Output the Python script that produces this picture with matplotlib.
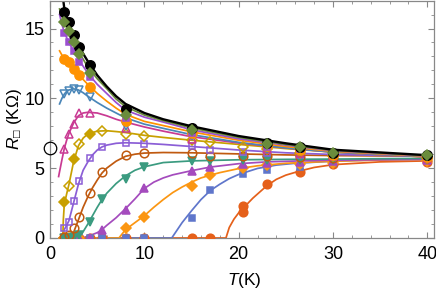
import matplotlib
matplotlib.use("Agg")
import matplotlib.pyplot as plt
from matplotlib.ticker import MultipleLocator

plt.rcParams["font.family"] = ["Liberation Sans", "DejaVu Sans"]
plt.rcParams["mathtext.fontset"] = "custom"
plt.rcParams["mathtext.rm"] = "Liberation Sans"
plt.rcParams["mathtext.it"] = "Liberation Sans:italic"
plt.rcParams["mathtext.fallback"] = "stixsans"

t_pts_a = [1.5, 2.0, 2.5, 3.1, 4.2, 5.5, 8.0, 10.0, 15, 17, 20.5, 20.5, 23, 26.5, 30, 40]
r_pts_a = [0, 0, 0, 0, 0, 0, 0, 0, 0, 0, 2.3, 1.85, 3.9, 4.74, 5.3, 5.45]
t_pts_b = [1.5, 2.0, 2.5, 3.1, 4.2, 5.5, 8.0, 10.0, 15, 17, 20.5, 23, 26.5, 30, 40]
r_pts_b = [0, 0, 0, 0, 0, 0, 0, 0, 1.4, 3.43, 4.57, 4.9, 5.1, 5.35, 5.55]
t_pts_c = [1.5, 2.0, 2.5, 3.1, 8.0, 10.0, 15, 17, 20.5, 23, 26.5, 30, 40]
r_pts_c = [0, 0, 0, 0, 0.69, 1.5, 3.7, 4.5, 4.98, 5.2, 5.3, 5.4, 5.5]
t_pts_d = [1.5, 2.0, 2.5, 3.1, 4.2, 5.5, 8.0, 10.0, 15, 17, 20.5, 23, 26.5, 30, 40]
r_pts_d = [0, 0, 0, 0, 0.02, 0.55, 2.0, 3.55, 4.8, 5.1, 5.33, 5.4, 5.45, 5.5, 5.55]
t_pts_e = [1.5, 2.0, 2.5, 3.1, 4.2, 5.5, 8.0, 10.0, 15, 17, 20.5, 23, 26.5, 30, 40]
r_pts_e = [0, 0, 0.05, 0.2, 1.17, 2.8, 4.2, 5.1, 5.5, 5.5, 5.6, 5.6, 5.6, 5.6, 5.65]
t_pts_f = [1.5, 2.0, 2.5, 3.1, 4.2, 5.5, 8.0, 10.0, 15, 17, 20.5, 23, 26.5, 30, 40]
r_pts_f = [0.05, 0.2, 0.69, 1.5, 3.25, 4.75, 5.93, 6.05, 6.05, 5.88, 5.85, 5.85, 5.8, 5.75, 5.7]
t_pts_g = [1.5, 2.0, 2.5, 3.1, 4.2, 5.5, 8.0, 10.0, 15, 17, 20.5, 23, 26.5, 30, 40]
r_pts_g = [0.69, 1.17, 2.65, 4.1, 5.7, 6.5, 6.8, 6.72, 6.6, 6.3, 6.15, 6.05, 5.95, 5.85, 5.7]
t_pts_h_fill = [1.5, 2.5, 4.2]
r_pts_h_fill = [2.6, 5.65, 7.45]
t_pts_h_open = [2.0, 3.1, 5.5, 8.0, 10.0, 15, 17, 20.5, 23, 26.5, 30, 40]
r_pts_h_open = [3.75, 6.75, 7.65, 7.45, 7.3, 7.0, 6.85, 6.55, 6.35, 6.1, 5.85, 5.7]
t_pts_i = [1.5, 2.0, 2.5, 3.1, 4.2, 8.0, 15, 23, 26.5, 30, 40]
r_pts_i = [6.4, 7.45, 8.15, 8.95, 8.95, 7.85, 7.1, 6.35, 6.1, 5.85, 5.7]
t_pts_j = [1.5, 2.0, 2.5, 3.1, 4.2, 8.0, 15, 23, 26.5, 30, 40]
r_pts_j = [10.3, 10.55, 10.7, 10.6, 10.1, 8.05, 7.3, 6.4, 6.2, 5.9, 5.75]
t_pts_k = [1.5, 2.0, 2.5, 3.1, 4.2, 8.0, 15, 23, 26.5, 30, 40]
r_pts_k = [12.85, 12.6, 12.1, 11.65, 10.8, 8.35, 7.5, 6.6, 6.3, 5.95, 5.8]
t_pts_l = [1.5, 2.0, 2.5, 3.1, 4.2, 8.0, 15, 23, 26.5, 30, 40]
r_pts_l = [14.7, 14.0, 13.4, 12.6, 11.5, 8.6, 7.55, 6.55, 6.35, 6.0, 5.9]
t_pts_m = [1.5, 2.0, 2.5, 3.1, 4.2, 8.0, 15, 23, 26.5, 30, 40]
r_pts_m = [15.45, 14.8, 14.0, 13.2, 11.85, 8.8, 7.75, 6.76, 6.52, 6.05, 5.93]
t_pts_n = [1.5, 2.0, 2.5, 3.1, 4.2, 8.0, 15, 23, 26.5, 30, 40]
r_pts_n = [16.2, 15.45, 14.5, 13.7, 12.4, 9.25, 7.9, 6.8, 6.5, 6.1, 5.93]

# ---- fitted curves ----
t_fit_a = [1.0, 18.65, 19.0, 19.5, 20.0, 20.5, 21.5, 23.0, 24.0, 25.0, 26.5, 28.0, 30.0, 35.0, 40.0]
r_fit_a = [0, 0, 0.75, 1.35, 1.8, 2.15, 2.85, 3.75, 4.2, 4.5, 4.8, 5.05, 5.25, 5.45, 5.52]
t_fit_b = [1.0, 12.9, 13.5, 14.0, 15.0, 16.0, 17.0, 18.0, 19.0, 20.0, 22.0, 24.0, 26.0, 30.0, 35.0, 40.0]
r_fit_b = [0, 0, 0.6, 1.1, 1.95, 2.75, 3.4, 3.85, 4.25, 4.55, 4.98, 5.22, 5.35, 5.5, 5.6, 5.65]
t_fit_c = [1.0, 7.3, 8.0, 9.0, 10.0, 11.0, 12.0, 13.0, 14.0, 15.0, 16.0, 17.0, 18.0, 20.0, 22.0, 25.0, 30.0, 35.0, 40.0]
r_fit_c = [0, 0, 0.6, 1.1, 1.6, 2.2, 2.75, 3.25, 3.65, 4.0, 4.3, 4.5, 4.68, 4.97, 5.17, 5.35, 5.5, 5.58, 5.62]
t_fit_d = [1.0, 3.4, 4.0, 5.0, 5.5, 6.0, 7.0, 8.0, 9.0, 10.0, 11.0, 12.0, 13.0, 15.0, 17.0, 20.0, 23.0, 27.0, 30.0, 40.0]
r_fit_d = [0, 0, 0.12, 0.38, 0.6, 0.9, 1.45, 2.1, 2.8, 3.55, 4.0, 4.3, 4.52, 4.82, 5.08, 5.32, 5.45, 5.53, 5.57, 5.63]
t_fit_e = [1.0, 3.1, 3.5, 4.0, 4.5, 5.0, 5.5, 6.0, 7.0, 8.0, 9.0, 10.0, 12.0, 15.0, 20.0, 25.0, 30.0, 40.0]
r_fit_e = [0, 0, 0.45, 1.0, 1.6, 2.2, 2.75, 3.2, 3.9, 4.45, 4.85, 5.1, 5.4, 5.52, 5.6, 5.63, 5.65, 5.7]
t_fit_f = [1.0, 2.3, 2.6, 3.0, 3.5, 4.0, 4.5, 5.0, 5.5, 6.0, 7.0, 8.0, 9.0, 10.0, 12.0, 15.0, 20.0, 25.0, 30.0, 40.0]
r_fit_f = [0, 0, 0.6, 1.3, 2.2, 2.95, 3.6, 4.15, 4.65, 5.0, 5.5, 5.85, 6.0, 6.08, 6.12, 6.1, 6.02, 5.95, 5.9, 5.85]
t_fit_g = [1.33, 1.5, 1.75, 2.0, 2.5, 3.0, 3.5, 4.0, 4.5, 5.0, 5.5, 6.0, 7.0, 8.0, 10.0, 12.0, 15.0, 20.0, 25.0, 30.0, 40.0]
r_fit_g = [0.2, 0.6, 0.9, 1.25, 2.55, 3.85, 4.85, 5.45, 5.95, 6.3, 6.52, 6.65, 6.78, 6.82, 6.78, 6.7, 6.55, 6.3, 6.1, 5.98, 5.85]
t_fit_h = [1.0, 1.34, 1.4, 1.5, 1.75, 2.0, 2.5, 3.0, 3.5, 4.0, 5.0, 6.0, 7.0, 8.0, 10.0, 12.0, 15.0, 20.0, 25.0, 30.0, 40.0]
r_fit_h = [0, 0, 1.3, 2.4, 3.15, 3.85, 5.5, 6.6, 7.15, 7.45, 7.65, 7.68, 7.62, 7.55, 7.35, 7.2, 7.0, 6.7, 6.4, 6.15, 5.8]
t_fit_i = [0.9, 1.0, 1.25, 1.5, 1.75, 2.0, 2.5, 3.0, 3.5, 4.0, 5.0, 6.0, 7.0, 8.0, 10.0, 12.0, 15.0, 20.0, 25.0, 30.0, 40.0]
r_fit_i = [4.4, 4.75, 5.6, 6.4, 7.0, 7.5, 8.25, 8.75, 8.95, 9.0, 8.95, 8.75, 8.5, 8.3, 7.95, 7.65, 7.25, 6.8, 6.45, 6.15, 5.8]
t_fit_top = [1.0, 1.25, 1.5, 1.75, 2.0, 2.5, 3.0, 3.5, 4.0, 5.0, 6.0, 7.0, 8.0, 10.0, 12.0, 15.0, 20.0, 25.0, 30.0, 40.0]
r_fit_j = [9.6, 10.0, 10.3, 10.5, 10.6, 10.68, 10.6, 10.4, 10.15, 9.7, 9.3, 8.95, 8.6, 8.15, 7.85, 7.4, 6.85, 6.45, 6.15, 5.82]
r_fit_k = [13.4, 13.1, 12.85, 12.65, 12.45, 12.05, 11.7, 11.35, 11.0, 10.35, 9.8, 9.3, 8.85, 8.35, 8.05, 7.6, 7.0, 6.55, 6.2, 5.85]
r_fit_l = [16.0, 15.3, 14.75, 14.35, 14.0, 13.35, 12.8, 12.3, 11.8, 11.0, 10.35, 9.7, 9.15, 8.65, 8.3, 7.75, 7.1, 6.65, 6.25, 5.88]
r_fit_m = [16.4, 15.9, 15.45, 15.05, 14.7, 14.0, 13.35, 12.8, 12.25, 11.4, 10.7, 9.95, 9.4, 8.8, 8.4, 7.88, 7.2, 6.7, 6.28, 5.9]
t_fit_n = [1.25, 1.5, 1.75, 2.0, 2.5, 3.0, 3.5, 4.0, 5.0, 6.0, 7.0, 8.0, 10.0, 12.0, 15.0, 20.0, 25.0, 30.0, 40.0]
r_fit_n = [17.8, 16.45, 15.85, 15.35, 14.5, 13.8, 13.2, 12.65, 11.65, 10.85, 10.15, 9.6, 8.95, 8.5, 8.0, 7.3, 6.78, 6.32, 5.93]

rq = 6.45  # h/4e^2 in kOhm, open circle on the axis

colors = {
    "a": "#e5601a", "b": "#5f76cb", "c": "#fb9612", "d": "#a44bbd",
    "e": "#3b9b80", "f": "#c05a10", "g": "#8b5ed6", "h": "#c8a000",
    "i": "#c93a93", "j": "#4a86b8", "k": "#ff9200", "l": "#9b4fd0",
    "m": "#6a8c3c", "n": "#000000",
}

fig = plt.figure(figsize=(4.36, 2.92), dpi=100)
ax = fig.add_axes([0.115, 0.185, 0.88, 0.813])

fits = [
    ("a", t_fit_a, r_fit_a), ("b", t_fit_b, r_fit_b), ("c", t_fit_c, r_fit_c),
    ("d", t_fit_d, r_fit_d), ("e", t_fit_e, r_fit_e), ("f", t_fit_f, r_fit_f),
    ("g", t_fit_g, r_fit_g), ("h", t_fit_h, r_fit_h), ("i", t_fit_i, r_fit_i),
    ("j", t_fit_top, r_fit_j), ("k", t_fit_top, r_fit_k), ("l", t_fit_top, r_fit_l),
    ("m", t_fit_top, r_fit_m), ("n", t_fit_n, r_fit_n),
]
for key, t, r in fits:
    lw = 1.7 if key == "n" else 1.25
    ax.plot(t, r, color=colors[key], lw=lw, zorder=2)

# marker, filled?, size
pts = [
    ("a", t_pts_a, r_pts_a, "o", True, 6.2),
    ("b", t_pts_b, r_pts_b, "s", True, 4.8),
    ("c", t_pts_c, r_pts_c, "D", True, 5.0),
    ("d", t_pts_d, r_pts_d, "^", True, 5.6),
    ("e", t_pts_e, r_pts_e, "v", True, 5.6),
    ("f", t_pts_f, r_pts_f, "o", False, 6.2),
    ("g", t_pts_g, r_pts_g, "s", False, 4.8),
    ("h", t_pts_h_fill, r_pts_h_fill, "D", True, 5.0),
    ("h", t_pts_h_open, r_pts_h_open, "D", False, 5.0),
    ("i", t_pts_i, r_pts_i, "^", False, 5.6),
    ("j", t_pts_j, r_pts_j, "v", False, 5.6),
    ("k", t_pts_k, r_pts_k, "o", True, 6.6),
    ("l", t_pts_l, r_pts_l, "s", True, 4.8),
    ("n", t_pts_n, r_pts_n, "o", True, 6.8),
    ("m", t_pts_m, r_pts_m, "D", True, 5.4),
]
for key, t, r, mk, filled, ms in pts:
    c = colors[key]
    ax.plot(t, r, ls="none", marker=mk, ms=ms, mec=c,
            mfc=c if filled else "none", mew=1.1, zorder=3)

ax.plot([0], [rq], ls="none", marker="o", ms=9, mfc="none", mec="black",
        mew=0.9, clip_on=False, zorder=4)

ax.set_xlim(0, 40.7)
ax.set_ylim(0, 17)
ax.xaxis.set_major_locator(MultipleLocator(10))
ax.xaxis.set_minor_locator(MultipleLocator(2))
ax.yaxis.set_major_locator(MultipleLocator(5))
ax.yaxis.set_minor_locator(MultipleLocator(1))
ax.tick_params(which="both", direction="in", top=True, right=True,
               color="#888888", labelsize=13)
ax.tick_params(axis="x", pad=6)
ax.tick_params(axis="y", pad=4)
ax.tick_params(which="major", length=4, width=0.8)
ax.tick_params(which="minor", length=2.2, width=0.6)
for s in ax.spines.values():
    s.set_color("#888888")
    s.set_linewidth(0.9)

ax.set_xlabel("$T$(K)", fontsize=12.5)
ax.set_ylabel("$R_{\u25a1}$ (K\u03a9)", fontsize=12.5)
ax.xaxis.set_label_coords(0.505, -0.138)
ax.yaxis.set_label_coords(-0.068, 0.5)

fig.savefig("out.png", dpi=100)
